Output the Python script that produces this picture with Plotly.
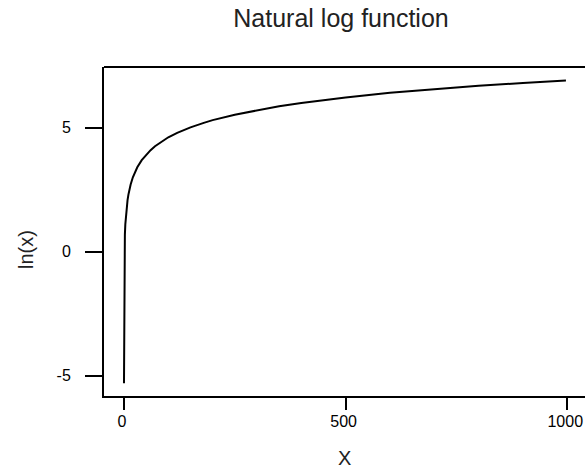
import plotly.graph_objects as go

# values
x_vals = [0.005, 0.5, 1, 1.5, 2, 3, 4, 5, 6, 8, 10, 12, 15, 20, 25, 30, 40, 50, 60, 70, 80,
          100, 120, 150, 180, 200, 250, 300, 350, 400, 450, 500, 600, 700, 800, 900, 997]
y_vals = [-5.30, -0.69, 0.00, 0.41, 0.69, 1.10, 1.39, 1.61, 1.79, 2.08, 2.30, 2.48, 2.71, 3.00,
          3.22, 3.40, 3.69, 3.91, 4.09, 4.25, 4.38, 4.61, 4.79, 5.01, 5.19, 5.30, 5.52, 5.70,
          5.86, 5.99, 6.11, 6.21, 6.40, 6.55, 6.68, 6.80, 6.90]
x_ticks = [0, 500, 1000]
x_tick_text = ["0", "500", "1000"]
y_ticks = [-5, 0, 5]
y_tick_text = ["-5", "0", "5"]

W, H = 585, 469
L, R, T, B = 104, 0, 67, 73
PW, PH = W - L - R, H - T - B
FONT = "Liberation Sans, Arial, sans-serif"


def px_to_paper(px, py):
    return (px - L) / PW, (H - B - py) / PH


fig = go.Figure()
fig.add_trace(go.Scatter(x=x_vals, y=y_vals, mode="lines",
                         line=dict(color="black", width=2), hoverinfo="skip"))

xt_x, xt_y = px_to_paper(344, 458)
yt_x, yt_y = px_to_paper(26, 250)

fig.update_layout(
    width=W, height=H,
    margin=dict(l=L, r=R, t=T, b=B),
    paper_bgcolor="white", plot_bgcolor="white",
    showlegend=False,
    font=dict(family=FONT, color="black"),
    title=dict(text="Natural log function", x=341 / W, xanchor="center",
               y=1 - 18 / H, yanchor="middle", yref="container",
               font=dict(size=25, family=FONT, color="#222")),
    xaxis=dict(range=[-45.1, 1040], tickvals=x_ticks, ticktext=x_tick_text,
               ticks="outside", ticklen=12, tickwidth=2, tickcolor="black",
               showline=True, linecolor="black", linewidth=2,
               showgrid=False, zeroline=False, tickfont=dict(size=16, family=FONT),
               ticklabelstandoff=-2, ticklabelshift=-2, ticklabeloverflow="allow"),
    yaxis=dict(range=[-5.81, 7.44], tickvals=y_ticks, ticktext=y_tick_text,
               ticks="outside", ticklen=17, tickwidth=2, tickcolor="black",
               showline=True, linecolor="black", linewidth=2,
               showgrid=False, zeroline=False, tickfont=dict(size=16, family=FONT),
               ticklabelstandoff=11),
    shapes=[dict(type="line", xref="paper", yref="paper", x0=0, x1=1, y0=1, y1=1,
                 line=dict(color="black", width=2))],
    annotations=[
        dict(text="X", x=xt_x, y=xt_y, xref="paper", yref="paper",
             xanchor="center", yanchor="middle", showarrow=False,
             font=dict(size=20, family=FONT, color="#222")),
        dict(text="ln(x)", x=yt_x, y=yt_y, xref="paper", yref="paper",
             xanchor="center", yanchor="middle", showarrow=False, textangle=-90,
             font=dict(size=20, family=FONT, color="#222")),
    ],
)

fig.write_html("out.html")
